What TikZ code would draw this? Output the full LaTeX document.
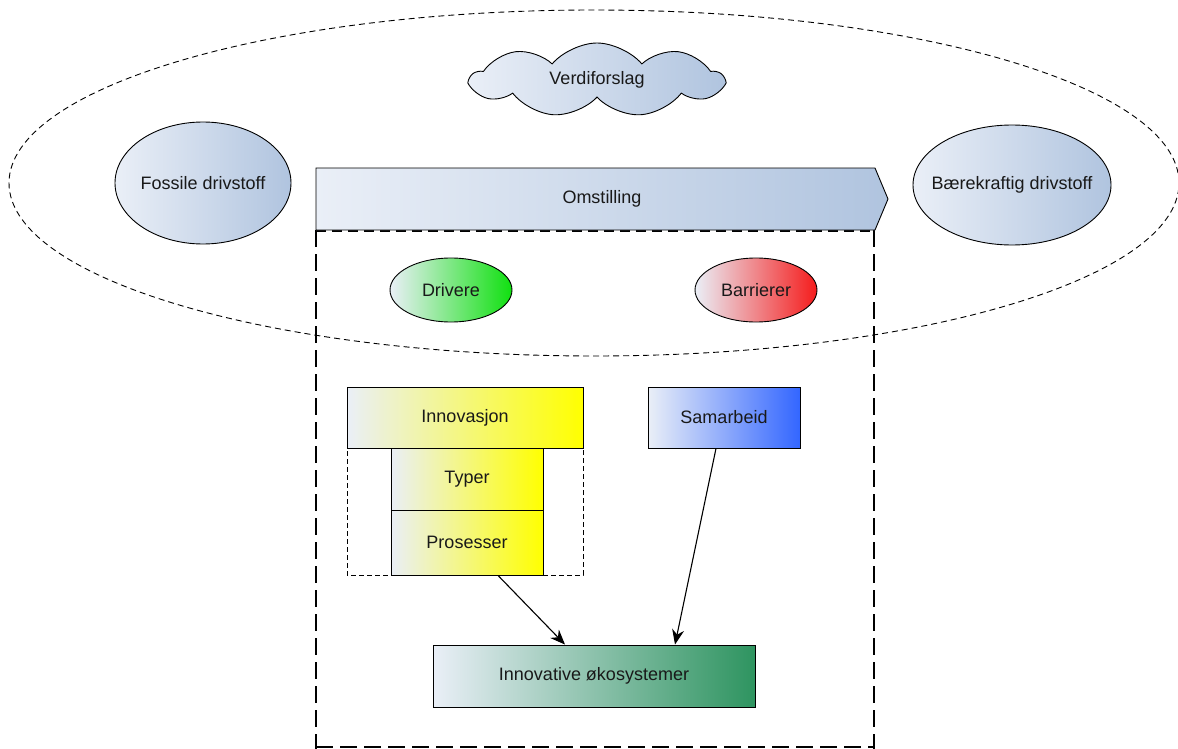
\documentclass[tikz,border=0pt]{standalone}
\usepackage{fontspec}
\setmainfont{Liberation Sans}
\usetikzlibrary{shapes.geometric,shapes.symbols,shapes.arrows,arrows.meta}
\definecolor{lite}{HTML}{EAEFF7}
\definecolor{bluegrey}{HTML}{B0C4DF}
\definecolor{grn}{HTML}{10E010}
\definecolor{rd}{HTML}{F51C1C}
\definecolor{yl}{HTML}{FFFF00}
\definecolor{bl}{HTML}{3366FF}
\definecolor{sg}{HTML}{2E9460}
\begin{document}
\begin{tikzpicture}[x=1pt,y=-1pt,
  every node/.style={font=\fontsize{18}{21}\selectfont, text=black!90},
  every label/.style={font=\fontsize{18}{21}\selectfont, text=black!90, inner sep=0pt},
  ell/.style={ellipse, draw, line width=0.9pt, inner sep=0pt},
  box/.style={rectangle, draw, line width=0.9pt, inner sep=0pt},
  conn/.style={-{Stealth[length=15pt,width=12pt]}, line width=1.1pt}]
\useasboundingbox (0,0) rectangle (1178,749);
% big dashed ellipse
\node[ellipse, draw, dash pattern=on 6pt off 4pt, line width=0.9pt, minimum width=1170pt, minimum height=346pt, inner sep=0pt] (big) at (594,183) {};
% big dashed rectangle
\draw[line width=2.6pt, dash pattern=on 17pt off 7pt] (316,230) -- (316,760);
\draw[line width=2.6pt, dash pattern=on 17pt off 7pt] (874,230) -- (874,760);
\draw[line width=2.6pt, dash pattern=on 17pt off 7pt] (316,747) -- (874,747);
\draw[line width=2.6pt, dash pattern=on 10pt off 6pt] (316,231) -- (874,231);
% cloud
\node[cloud, draw, line width=0.9pt, cloud puffs=9, cloud puff arc=100, aspect=3.6, minimum width=252pt, minimum height=74pt, inner sep=0pt, left color=lite, right color=bluegrey, label={center:Verdiforslag}] (verdi) at (597,80) {};
% ellipses
\node[ell, minimum width=176pt, minimum height=122pt, left color=lite, right color=bluegrey, label={center:Fossile drivstoff}] (fossil) at (203,183) {};
\node[ell, minimum width=198pt, minimum height=120pt, left color=lite, right color=bluegrey, label={center:Bærekraftig drivstoff}] (baere) at (1012,185) {};
% arrow
\path[draw, line width=0.9pt, left color=lite, right color=bluegrey] (316,168) -- (875,168) -- (888,199) -- (875,230) -- (316,230) -- cycle;
\node (omst) at (602,199) {Omstilling};
% drivers / barriers
\node[ell, minimum width=122pt, minimum height=64pt, left color=lite, right color=grn, label={center:Drivere}] (driv) at (451,290) {};
\node[ell, minimum width=122pt, minimum height=64pt, left color=lite, right color=rd, label={center:Barrierer}] (barr) at (756,290) {};
% innovation group
\draw[line width=0.9pt, dash pattern=on 5pt off 3pt] (347,387) rectangle (583,575);
\node[box, minimum width=236pt, minimum height=61pt, left color=lite, right color=yl] (innov) at (465,417.5) {Innovasjon};
\node[box, minimum width=152pt, minimum height=62pt, left color=lite, right color=yl] (typer) at (467,479) {Typer};
\node[box, minimum width=152pt, minimum height=65pt, left color=lite, right color=yl] (pros) at (467,542.5) {Prosesser};
\node[box, minimum width=152pt, minimum height=61pt, left color=lite, right color=bl] (samar) at (724,417.5) {Samarbeid};
\node[box, minimum width=322pt, minimum height=62pt, left color=lite, right color=sg] (oko) at (594,676) {Innovative økosystemer};
% connectors
\path (pros.south) ++(31,0) coordinate (p1);
\path (samar.south) ++(-8,0) coordinate (s1);
\draw[conn] (p1) -- (oko.north -| 565,0);
\draw[conn] (s1) -- (oko.north -| 675,0);
\end{tikzpicture}
\end{document}
